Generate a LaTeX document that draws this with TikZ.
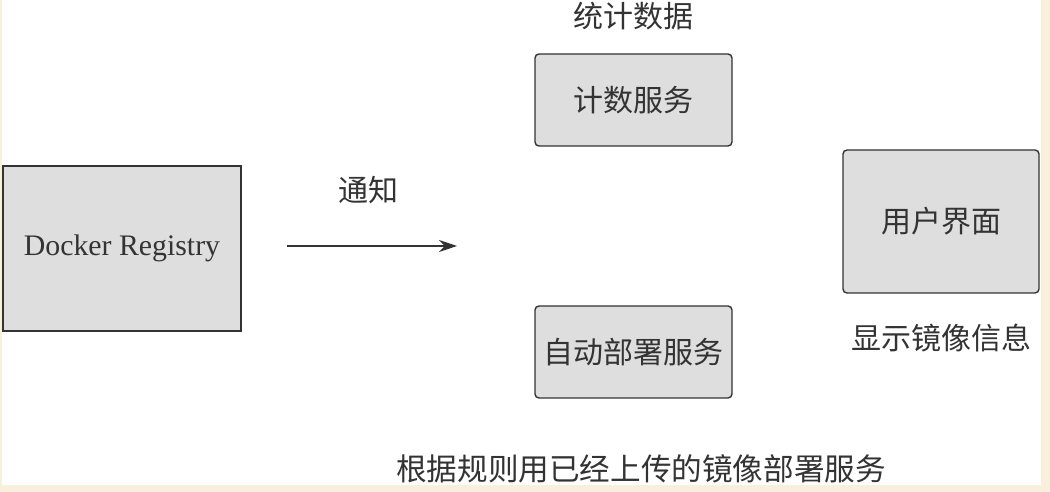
\documentclass[tikz,border=0pt]{standalone}
\usepackage{fontspec}
\setmainfont{Liberation Serif}
\newfontfamily\cjk{Noto Sans CJK SC}
\usetikzlibrary{arrows.meta}
\definecolor{cream}{HTML}{F8F0DC}
\definecolor{boxfill}{HTML}{DEDEDE}
\definecolor{boxline}{HTML}{333333}
\definecolor{txt}{HTML}{333333}
\tikzset{
  box/.style={draw=boxline, fill=boxfill, line width=1.4pt, inner sep=0pt, text=txt},
  rbox/.style={box, rounded corners=4pt},
  cjkfont/.style={font=\cjk\fontsize{30}{32}\selectfont},
  lbl/.style={text=txt, inner sep=0pt, cjkfont},
}
\begin{document}
\begin{tikzpicture}[x=1pt,y=1pt]
\useasboundingbox (0,0) rectangle (1050,492);
\fill[cream] (0,0) rectangle (1050,492);
\fill[white] (2,7) rectangle (1041,492);
\node[box, minimum width=238pt, minimum height=165pt, font=\fontsize{29.8}{31}\selectfont] (reg) at (122,243.5) {Docker Registry};
\node[rbox, minimum width=197pt, minimum height=92pt, cjkfont] (cnt) at (633.5,392) {计数服务};
\node[rbox, minimum width=197pt, minimum height=92pt, cjkfont] (dep) at (633.5,140) {自动部署服务};
\node[rbox, minimum width=196pt, minimum height=143pt, cjkfont] (ui) at (941,270.5) {用户界面};
\node[lbl] (tj) at (633,476) {统计数据};
\node[lbl] (tz) at (368,302) {通知};
\node[lbl] (xs) at (941,154) {显示镜像信息};
\node[lbl, font=\cjk\fontsize{30.6}{32}\selectfont] (gj) at (641,23) {根据规则用已经上传的镜像部署服务};
\coordinate (a1) at (287,246);
\coordinate (a2) at (457,246);
\draw[boxline, line width=1.4pt, -{Stealth[length=18pt,width=12pt]}] (a1) -- (a2);
\end{tikzpicture}
\end{document}
